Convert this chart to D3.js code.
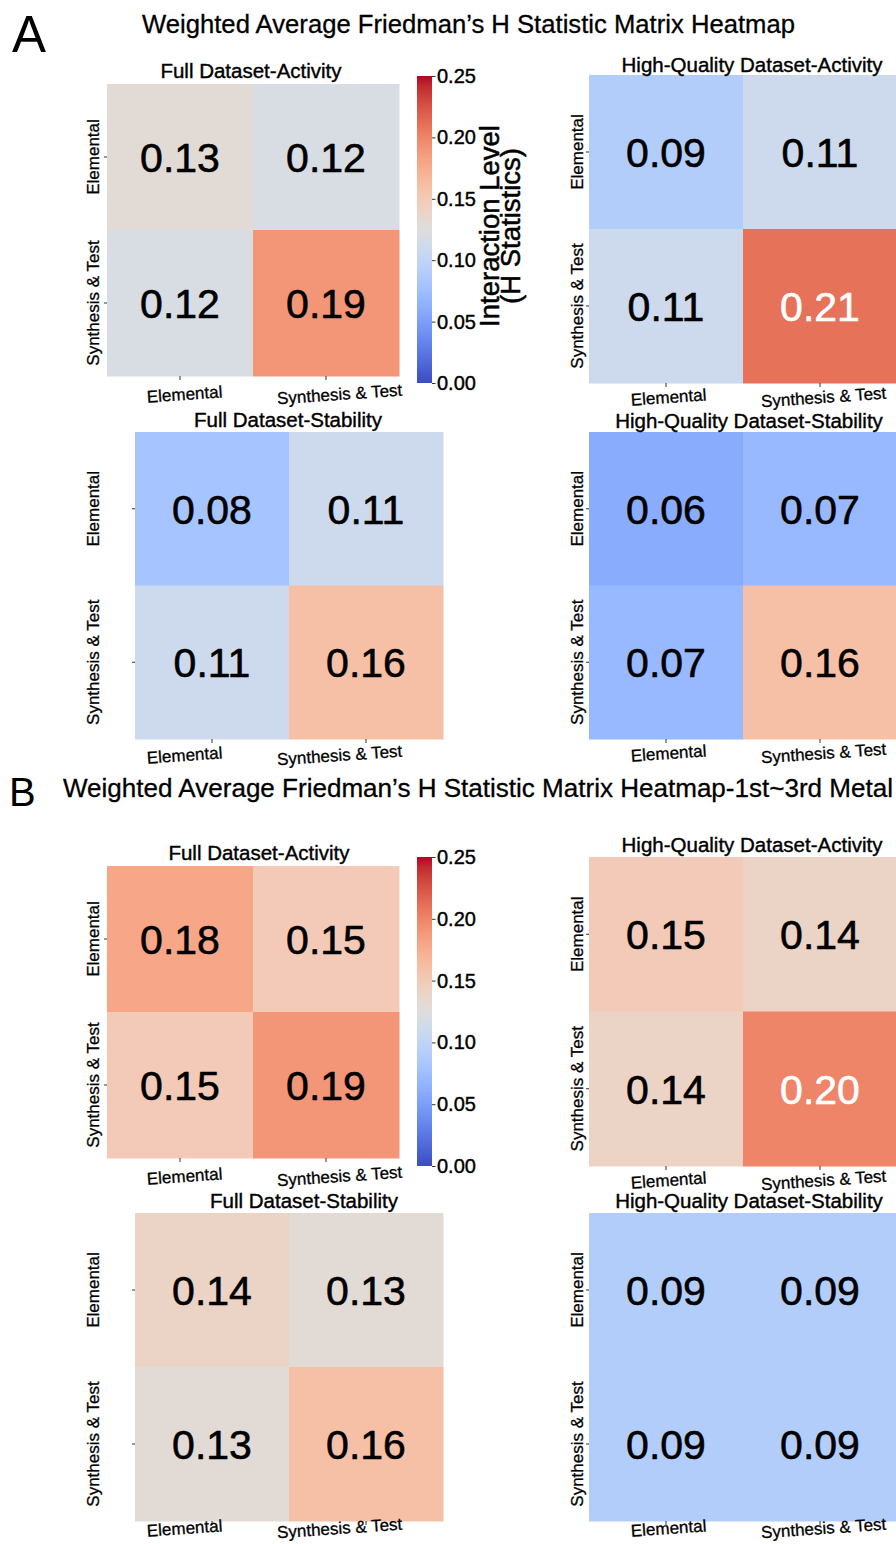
<!DOCTYPE html>
<html>
<head>
<meta charset="utf-8">
<script src="https://cdn.jsdelivr.net/npm/d3@7"></script>
<style>
  html, body { margin: 0; padding: 0; background: #fff; }
  svg { display: block; }
</style>
</head>
<body>
<svg id="fig" width="896" height="1544"></svg>
<script>
// ---- data -------------------------------------------------------------
const rowLabels = ["Elemental", "Synthesis & Test"];
const colLabels = ["Elemental", "Synthesis & Test"];

// Section A: all metals
const fullActivityA  = [[0.13, 0.12], [0.12, 0.19]];
const hqActivityA    = [[0.09, 0.11], [0.11, 0.21]];
const fullStabilityA = [[0.08, 0.11], [0.11, 0.16]];
const hqStabilityA   = [[0.06, 0.07], [0.07, 0.16]];

// Section B: 1st~3rd metal
const fullActivityB  = [[0.18, 0.15], [0.15, 0.19]];
const hqActivityB    = [[0.15, 0.14], [0.14, 0.20]];
const fullStabilityB = [[0.14, 0.13], [0.13, 0.16]];
const hqStabilityB   = [[0.09, 0.09], [0.09, 0.09]];

const colorbarTicks = [0.00, 0.05, 0.10, 0.15, 0.20, 0.25];
const colorDomain = [0, 0.25];

// coolwarm diverging palette (33 samples, blue -> grey -> red)
const coolwarm = [
  [59,76,192],[68,90,204],[77,104,215],[87,117,225],[98,130,234],[108,142,241],
  [119,154,247],[130,165,251],[141,176,254],[152,185,255],[163,194,255],[174,201,253],
  [184,208,249],[194,213,244],[204,217,238],[213,219,230],[221,221,221],[229,216,209],
  [236,211,197],[241,204,185],[245,196,173],[247,187,160],[247,177,148],[247,166,135],
  [244,154,123],[241,141,111],[236,127,99],[229,112,88],[222,96,77],[213,80,66],
  [203,62,56],[192,40,47],[180,4,38]
].map(c => d3.rgb(c[0], c[1], c[2]).formatHex());

const color = d3.scaleSequential(d3.piecewise(d3.interpolateRgb, coolwarm)).domain(colorDomain);

// ---- helpers ------------------------------------------------------------
const FONT = "'Liberation Sans', Arial, Helvetica, sans-serif";
const svg = d3.select("#fig");
svg.append("rect").attr("width", 896).attr("height", 1544).attr("fill", "#fff");

function luminance(c) {
  const rgb = d3.rgb(c);
  const f = v => { v /= 255; return v <= 0.03928 ? v / 12.92 : Math.pow((v + 0.055) / 1.055, 2.4); };
  return 0.2126 * f(rgb.r) + 0.7152 * f(rgb.g) + 0.0722 * f(rgb.b);
}
const fmt = d3.format(".2f");

// slightly heavier strokes on the glyphs
function weight(sel, w, col) {
  return sel.attr("stroke", col || "#000").attr("stroke-width", w).attr("paint-order", "stroke")
    .attr("stroke-linejoin", "round");
}

function heatmap(matrix, g) {
  const x = d3.scaleBand().domain(colLabels).range([g.x, g.x + g.w]);
  const y = d3.scaleBand().domain(rowLabels).range([g.y, g.y + g.h]);
  const cells = [];
  matrix.forEach((row, i) => row.forEach((v, j) => cells.push({ r: rowLabels[i], c: colLabels[j], v })));

  const root = svg.append("g");

  root.selectAll("rect.cell").data(cells).join("rect")
    .attr("class", "cell")
    .attr("x", d => x(d.c)).attr("y", d => y(d.r))
    .attr("width", x.bandwidth() + 0.5).attr("height", y.bandwidth() + 0.5)
    .attr("fill", d => color(d.v));

  root.selectAll("text.val").data(cells).join("text")
    .attr("class", "val")
    .attr("x", d => x(d.c) + x.bandwidth() / 2)
    .attr("y", d => y(d.r) + y.bandwidth() / 2)
    .attr("dy", "0.36em")
    .attr("text-anchor", "middle")
    .attr("font-family", FONT).attr("font-size", 41)
    .attr("fill", d => luminance(color(d.v)) > 0.408 ? "#000" : "#fff")
    .attr("stroke", d => luminance(color(d.v)) > 0.408 ? "#000" : "#fff")
    .attr("stroke-width", 0.6).attr("stroke-linejoin", "round")
    .text(d => fmt(d.v));

  // title
  weight(root.append("text")
    .attr("x", g.tx).attr("y", g.ty)
    .attr("text-anchor", "middle")
    .attr("font-family", FONT).attr("font-size", 20.5).attr("fill", "#000")
    .text(g.title), 0.4);

  // x axis
  const xa = root.append("g").attr("transform", `translate(0,${g.y + g.h})`)
    .call(d3.axisBottom(x).tickSize(4).tickSizeOuter(0));
  xa.select(".domain").remove();
  xa.selectAll(".tick line").attr("stroke", "#333").attr("stroke-width", 1);
  weight(xa.selectAll(".tick text")
    .attr("y", null).attr("dy", null)
    .attr("font-family", FONT).attr("font-size", 17).attr("fill", "#000")
    .attr("text-anchor", "middle")
    .attr("transform", (d, i) => `translate(${g.xdx[i]},${g.xlabY}) rotate(-4)`), 0.3);

  // y axis
  const ya = root.append("g").attr("transform", `translate(${g.x},0)`)
    .call(d3.axisLeft(y).tickSize(3).tickSizeOuter(0));
  ya.select(".domain").remove();
  ya.selectAll(".tick line").attr("stroke", "#333").attr("stroke-width", 1);
  weight(ya.selectAll(".tick text")
    .attr("x", null).attr("dy", null)
    .attr("font-family", FONT).attr("font-size", 17).attr("fill", "#000")
    .attr("text-anchor", "middle")
    .attr("transform", `translate(${g.ylab},0) rotate(-90)`), 0.3);
}

// colour bar
const grad = svg.append("defs").append("linearGradient")
  .attr("id", "cwGrad").attr("x1", 0).attr("y1", 1).attr("x2", 0).attr("y2", 0);
grad.selectAll("stop").data(coolwarm).join("stop")
  .attr("offset", (d, i) => i / (coolwarm.length - 1))
  .attr("stop-color", d => d);

function colorbar(g) {
  const s = d3.scaleLinear().domain(colorDomain).range([g.y + g.h, g.y]);
  const root = svg.append("g");
  root.append("rect").attr("x", g.x).attr("y", g.y).attr("width", g.w).attr("height", g.h)
    .attr("fill", "url(#cwGrad)");
  const ax = root.append("g").attr("transform", `translate(${g.x + g.w},0)`)
    .call(d3.axisRight(s).tickValues(colorbarTicks).tickFormat(fmt).tickSize(3.5).tickPadding(1.5));
  ax.select(".domain").remove();
  ax.selectAll(".tick line").attr("stroke", "#333");
  weight(ax.selectAll(".tick text").attr("font-family", FONT).attr("font-size", 20).attr("fill", "#000"), 0.4);
  if (g.label) {
    g.label.forEach((line, i) => {
      weight(root.append("text")
        .attr("transform", `translate(${g.labelX[i]},${g.labelY}) rotate(-90)`)
        .attr("text-anchor", "middle")
        .attr("font-family", FONT).attr("font-size", 27.5).attr("fill", "#000")
        .text(line), 0.5);
    });
  }
}

// ---- section headers --------------------------------------------------------
svg.append("text").attr("x", 12).attr("y", 52)
  .attr("font-family", FONT).attr("font-size", 51).attr("fill", "#000").text("A");
weight(svg.append("text").attr("x", 142).attr("y", 33)
  .attr("font-family", FONT).attr("font-size", 25.5).attr("fill", "#000")
  .attr("textLength", 653).attr("lengthAdjust", "spacingAndGlyphs")
  .text("Weighted Average Friedman\u2019s H Statistic Matrix Heatmap"), 0.3);

svg.append("text").attr("x", 9).attr("y", 806)
  .attr("font-family", FONT).attr("font-size", 40).attr("fill", "#000").text("B");
weight(svg.append("text").attr("x", 63).attr("y", 797)
  .attr("font-family", FONT).attr("font-size", 25.5).attr("fill", "#000")
  .attr("textLength", 830).attr("lengthAdjust", "spacingAndGlyphs")
  .text("Weighted Average Friedman\u2019s H Statistic Matrix Heatmap-1st~3rd Metal"), 0.3);

// ---- panels ---------------------------------------------------------------
const leftTop  = { xdx: [5, 14],    ylab: -8,  xlabY: 24 };
const leftBot  = { xdx: [-27, -26], ylab: -36, xlabY: 22 };
const right    = { xdx: [3, 4],     ylab: -6,  xlabY: 20 };

heatmap(fullActivityA,  { ...leftTop, x: 107, y: 84,  w: 292, h: 292, title: "Full Dataset-Activity",          tx: 251, ty: 78 });
heatmap(hqActivityA,    { ...right,   x: 589, y: 75,  w: 308, h: 308, title: "High-Quality Dataset-Activity",  tx: 752, ty: 72 });
heatmap(fullStabilityA, { ...leftBot, x: 135, y: 432, w: 308, h: 307, title: "Full Dataset-Stability",         tx: 288, ty: 427 });
heatmap(hqStabilityA,   { ...right,   x: 589, y: 432, w: 308, h: 307, title: "High-Quality Dataset-Stability", tx: 749, ty: 428 });

heatmap(fullActivityB,  { ...leftTop, x: 107, y: 866,  w: 292, h: 292, title: "Full Dataset-Activity",          tx: 259, ty: 860 });
heatmap(hqActivityB,    { ...right,   x: 589, y: 857,  w: 308, h: 309, title: "High-Quality Dataset-Activity",  tx: 752, ty: 852 });
heatmap(fullStabilityB, { ...leftBot, xlabY: 13, x: 135, y: 1213, w: 308, h: 308, title: "Full Dataset-Stability",         tx: 304, ty: 1208 });
heatmap(hqStabilityB,   { ...right,   xlabY: 13, x: 589, y: 1213, w: 308, h: 308, title: "High-Quality Dataset-Stability", tx: 749, ty: 1208 });

colorbar({ x: 417, y: 76, w: 15, h: 307,
  label: ["Interaction Level", "(H Statistics)"], labelX: [499, 520], labelY: 226 });
colorbar({ x: 417, y: 857, w: 15, h: 309 });
</script>
</body>
</html>
